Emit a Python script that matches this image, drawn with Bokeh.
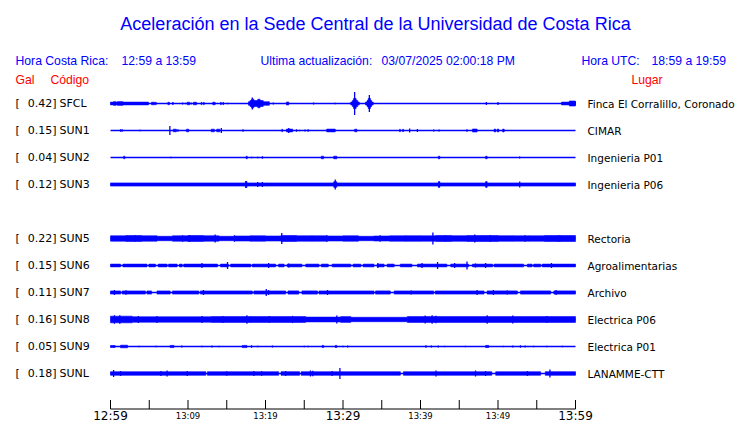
from bokeh.plotting import figure
from bokeh.models import Range1d, ColumnDataSource
from bokeh.core.properties import value
from bokeh.embed import file_html
from bokeh.resources import INLINE

# ---------------- data ----------------
title_text = "Aceleración en la Sede Central de la Universidad de Costa Rica"
hdr_cr_label = "Hora Costa Rica:"
hdr_cr_value = "12:59 a 13:59"
hdr_upd_label = "Ultima actualización:"
hdr_upd_value = "03/07/2025 02:00:18 PM"
hdr_utc_label = "Hora UTC:"
hdr_utc_value = "18:59 a 19:59"
col_gal = "Gal"
col_code = "Código"
col_place = "Lugar"

stations = ["SFCL", "SUN1", "SUN2", "SUN3", "SUN5", "SUN6", "SUN7", "SUN8", "SUN9", "SUNL"]
peak_gal = [0.42, 0.15, 0.04, 0.12, 0.22, 0.15, 0.11, 0.16, 0.05, 0.18]
places = ["Finca El Corralillo, Coronado", "CIMAR", "Ingenieria P01", "Ingenieria P06",
          "Rectoria", "Agroalimentarias", "Archivo", "Electrica P06", "Electrica P01",
          "LANAMME-CTT"]
rows = [0, 1, 2, 3, 5, 6, 7, 8, 9, 10]

t_start, t_end = 0, 60                       # minutes after 12:59
tick_minutes = list(range(0, 61, 5))
label_minutes = [0, 10, 20, 30, 40, 50, 60]
tick_labels = ["12:59", "13:09", "13:19", "13:29", "13:39", "13:49", "13:59"]
big_labels = ["12:59", "13:29", "13:59"]

# Trace envelopes (minutes, half amplitude in trace units)
# bands: (t0, t1, amp); spikes: (t, amp); gaps: quiet stretches in a continuous band
bands = {
    "SFCL": [(0.0, 4.9, 1.4), (0.4, 0.7, 1.8), (0.9, 1.6, 1.8), (5.3, 5.7, 1.3), (5.8, 5.9, 1.3),
             (7.4, 7.6, 1.2), (8.0, 8.1, 1.2), (9.9, 10.2, 1.3), (10.7, 11.1, 1.3), (11.7, 11.8, 1.2),
             (12.0, 12.1, 1.2), (13.2, 13.5, 1.3), (14.2, 14.3, 1.2), (14.5, 14.6, 1.2),
             (17.8, 20.5, 1.8), (18.0, 19.7, 3.0), (18.2, 18.5, 4.3), (19.0, 19.3, 4.3),
             (22.7, 23.0, 1.5), (31.0, 32.1, 1.5), (31.2, 31.9, 3.0), (31.35, 31.7, 5.0),
             (32.9, 33.9, 1.5), (33.1, 33.7, 3.0), (33.25, 33.55, 5.0),
             (58.2, 60.0, 1.4), (59.2, 60.0, 2.5)],
    "SUN1": [(8.1, 8.5, 1.3), (9.8, 10.1, 1.3), (13.0, 13.4, 1.3), (13.7, 14.1, 1.3),
             (22.1, 22.2, 1.3), (22.7, 23.5, 1.4), (27.9, 29.0, 1.4), (31.5, 31.8, 1.3),
             (37.3, 37.4, 1.3), (37.7, 37.8, 1.3), (46.7, 47.3, 1.5), (49.5, 49.7, 1.4),
             (49.9, 50.1, 1.4), (50.6, 50.8, 1.4)],
    "SUN2": [(1.7, 1.85, 1.3), (17.5, 17.65, 1.3), (27.2, 27.5, 1.3), (28.8, 29.2, 1.3),
             (42.3, 42.5, 1.3), (48.4, 48.6, 1.3)],
    "SUN3": [(0.0, 60.0, 1.6), (17.4, 17.6, 3.0), (28.8, 29.2, 2.8), (42.3, 42.5, 2.8),
             (48.4, 48.6, 2.8)],
    "SUN5": [(0, 2, 2.7), (2, 4, 3.0), (4, 6, 2.7), (6, 8, 2.2), (8, 10, 2.7), (10, 12, 3.0),
             (12, 14, 2.7), (14, 16, 2.2), (16, 18, 2.5), (18, 20, 2.7), (20, 22, 2.5),
             (22, 24, 3.0), (24, 26, 2.7), (26, 28, 2.7), (28, 30, 2.5), (30, 32, 2.7),
             (32, 34, 2.2), (34, 36, 2.5), (36, 38, 2.7), (38, 40, 2.8), (40, 42, 2.7),
             (42, 44, 3.0), (44, 46, 2.8), (46, 48, 3.0), (48, 50, 3.0), (50, 52, 2.8),
             (52, 54, 2.7), (54, 56, 2.7), (56, 58, 3.0), (58, 60, 3.0)],
    "SUN6": [(0.0, 60.0, 1.4)],
    "SUN7": [(0.0, 60.0, 1.6)],
    "SUN8": [(0.0, 2.8, 3.3), (2.8, 13.0, 2.7), (13.0, 18.0, 2.9), (18.0, 25.2, 2.9),
             (25.2, 29.7, 2.4), (29.7, 31.0, 2.9), (31.0, 38.3, 2.2), (38.3, 60.0, 2.9)],
    "SUN9": [(0.0, 0.6, 1.0), (1.3, 2.2, 1.3), (7.7, 8.2, 1.1), (17.0, 17.6, 1.1),
             (27.3, 27.5, 1.1), (29.0, 29.2, 1.1), (48.4, 48.8, 1.1)],
    "SUNL": [(0.0, 60.0, 1.8)],
}
gaps = {
    "SUN6": [(1.3, 1.6), (4.7, 4.95), (5.8, 6.15), (7.3, 7.5), (8.6, 8.9), (9.25, 9.45),
             (13.8, 14.2), (15.2, 15.5), (18.1, 18.3), (21.3, 21.7), (22.4, 22.8), (24.7, 25.2),
             (26.9, 27.2), (28.1, 28.6), (31.0, 31.3), (32.3, 32.6), (34.0, 34.4), (35.3, 35.7),
             (36.6, 37.4), (38.9, 39.6), (43.4, 43.9), (46.2, 46.7), (49.3, 49.5), (53.3, 53.8),
             (54.4, 54.6), (55.5, 55.7)],
    "SUN7": [(1.3, 1.5), (4.5, 4.7), (5.3, 6.0), (7.7, 8.0), (11.4, 11.6), (18.3, 18.5),
             (22.6, 22.9), (24.3, 24.7), (26.7, 26.9), (34.0, 34.2), (36.1, 36.6), (41.7, 41.9),
             (48.2, 48.6), (52.5, 52.9), (56.8, 57.2)],
    "SUNL": [(12.3, 12.5), (21.7, 22.0), (24.4, 24.6), (37.4, 37.8), (49.2, 49.7), (55.5, 56.1)],
}
spikes = {
    "SFCL": [(9.3, 1.0), (9.7, 0.8), (10.4, 1.0), (15.1, 0.8), (21.0, 1.0), (26.2, 1.0),
             (29.0, 0.8), (48.5, 1.5), (50.0, 1.5), (18.3, 6.0), (31.5, 11.5), (33.4, 8.5)],
    "SUN1": [(1.3, 1.3), (1.5, 1.3), (3.8, 0.8), (5.9, 0.6), (7.66, 4.5), (8.7, 1.3), (12.0, 0.6),
             (14.3, 2.5), (17.1, 1.2), (19.6, 0.6), (23.0, 2.5), (24.0, 1.3), (24.4, 0.8),
             (25.1, 1.0), (25.5, 1.3), (27.3, 0.6), (31.1, 0.6), (38.6, 2.0), (39.6, 1.5),
             (41.7, 1.0), (42.4, 1.0), (46.0, 1.2), (52.9, 0.6)],
    "SUN2": [(7.8, 0.8), (18.2, 0.8), (19.0, 0.8), (19.6, 1.3), (40.7, 0.6), (52.8, 1.0)],
    "SUN3": [(17.5, 3.5), (19.0, 2.5), (19.6, 2.5), (29.0, 5.0), (42.4, 3.0), (48.5, 3.0),
             (52.8, 3.0)],
    "SUN5": [(9.3, 3.3), (10.2, 3.5), (13.5, 4.0), (22.1, 5.5), (27.9, 3.3), (41.6, 6.0),
             (43.2, 3.3), (47.0, 4.0), (49.0, 3.5), (3.2, 3.3), (16.0, 3.2), (34.8, 3.2),
             (53.5, 3.3), (57.8, 3.3)],
    "SUN6": [(11.8, 2.5), (15.1, 3.5), (20.4, 2.5), (23.0, 2.0), (34.5, 2.5), (40.2, 2.5),
             (42.2, 3.5), (44.4, 2.5), (46.0, 4.0), (47.1, 2.0), (48.4, 2.5), (56.9, 2.5)],
    "SUN7": [(0.5, 2.5), (2.0, 2.3), (12.0, 2.5), (20.1, 3.5), (20.4, 2.5), (28.0, 2.5),
             (38.8, 2.0), (47.3, 2.5), (49.4, 2.5), (51.2, 2.0), (57.5, 2.5)],
    "SUN8": [(0.5, 4.2), (1.2, 4.3), (3.6, 3.6), (6.0, 3.5), (11.8, 3.6), (14.5, 3.5),
             (17.6, 4.2), (20.5, 3.5), (23.5, 3.6), (29.2, 4.0), (40.6, 4.0), (41.5, 4.2),
             (42.0, 3.8), (48.6, 4.2), (51.9, 4.0), (56.3, 3.6)],
    "SUN9": [(3.7, 0.7), (5.9, 0.7), (9.2, 1.0), (11.8, 0.7), (13.1, 1.0), (14.0, 0.7),
             (18.2, 1.2), (19.0, 0.7), (20.9, 1.0), (25.0, 0.7), (25.5, 0.7), (30.0, 0.7),
             (30.6, 1.0), (40.7, 1.2), (41.4, 1.0), (42.3, 1.0), (43.1, 0.7), (45.8, 0.7),
             (50.7, 0.7), (51.9, 1.0), (52.9, 1.2), (53.5, 1.0), (54.6, 0.7), (56.3, 0.7),
             (58.3, 0.7)],
    "SUNL": [(0.4, 3.5), (1.3, 2.5), (6.5, 2.5), (7.3, 3.0), (9.9, 2.5), (15.0, 2.2),
             (18.5, 2.5), (19.5, 2.3), (22.6, 2.5), (25.8, 3.0), (26.1, 2.8), (28.6, 2.5),
             (29.6, 5.5), (42.0, 3.0), (47.1, 3.0), (48.4, 2.5), (53.8, 2.5), (56.7, 4.0)],
}

# ---------------- layout ----------------
W, H = 740, 423
PX_PER_MIN = 7.75          # horizontal scale of the traces
X0_PX = 110                # px of minute 0
ROW_PX = 27                # vertical spacing of traces
ROW0_PX = 103              # px of first trace
BLUE = "#0000ff"
RED = "#ff0000"


def fx(px):   # page x -> data x
    return (px - X0_PX) / PX_PER_MIN


def fy(py):   # page y -> data y
    return (py - ROW0_PX) / ROW_PX


def amp(a):
    return a / ROW_PX


p = figure(width=W, height=H, output_backend="svg", toolbar_location=None,
           x_range=Range1d(-X0_PX / PX_PER_MIN, (W - X0_PX) / PX_PER_MIN),
           y_range=Range1d((H - ROW0_PX) / ROW_PX, -ROW0_PX / ROW_PX),
           min_border=0, x_axis_type=None, y_axis_type=None)
p.grid.visible = False
p.outline_line_color = None
p.background_fill_color = "white"
p.border_fill_color = "white"


def complement(t0, t1, holes):
    out, cur = [], t0
    for a, b in sorted(holes):
        if a > cur:
            out.append((cur, a))
        cur = max(cur, b)
    if cur < t1:
        out.append((cur, t1))
    return out


# ---- traces ----
ql, qr, qb, qt = [], [], [], []
sx, sy0, sy1 = [], [], []
for st, r in zip(stations, rows):
    for (a, b, h) in bands.get(st, []):
        pieces = complement(a, b, gaps.get(st, [])) if (a == t_start and b == t_end) else [(a, b)]
        for (c, d) in pieces:
            ql.append(c); qr.append(d); qb.append(r - amp(h)); qt.append(r + amp(h))
    for (t, h) in spikes.get(st, []):
        sx.append(t); sy0.append(r - amp(h)); sy1.append(r + amp(h))

p.quad(left="l", right="r", bottom="b", top="t",
       source=ColumnDataSource(dict(l=ql, r=qr, b=qb, t=qt)),
       fill_color=BLUE, line_color=BLUE, line_width=0.6)
p.segment(x0="x", x1="x", y0="y0", y1="y1",
          source=ColumnDataSource(dict(x=sx, y0=sy0, y1=sy1)),
          line_color=BLUE, line_width=1.3)
p.segment(x0=[t_start] * len(rows), x1=[t_end] * len(rows), y0=rows, y1=rows,
          line_color=BLUE, line_width=1.3)

# ---- row labels ----
lab_y = [r + amp(0.2) for r in rows]
p.text(x=[fx(15)] * len(rows), y=lab_y, text=["["] * len(rows),
       text_font=value("DejaVu Sans"), text_font_size="11px", text_color="black",
       text_align="left", text_baseline="middle")
p.text(x=[fx(56)] * len(rows), y=lab_y, text=[f"{g:.2f}]" for g in peak_gal],
       text_font=value("DejaVu Sans"), text_font_size="11px", text_color="black",
       text_align="right", text_baseline="middle")
p.text(x=[fx(59)] * len(rows), y=lab_y, text=stations,
       text_font=value("DejaVu Sans"), text_font_size="11px", text_color="black",
       text_align="left", text_baseline="middle")
p.text(x=[fx(587)] * len(rows), y=lab_y, text=places,
       text_font=value("DejaVu Sans"), text_font_size="10.5px", text_color="black",
       text_align="left", text_baseline="middle")

# ---- time axis ----
axis_y = fy(408.5)
p.segment(x0=[t_start], x1=[t_end], y0=[axis_y], y1=[axis_y], line_color="black", line_width=1)
p.segment(x0=tick_minutes, x1=tick_minutes, y0=[fy(399.5)] * len(tick_minutes),
          y1=[axis_y] * len(tick_minutes), line_color="black", line_width=1)
big_m = [m for m, l in zip(label_minutes, tick_labels) if l in big_labels]
big_l = [l for l in tick_labels if l in big_labels]
small_m = [m for m, l in zip(label_minutes, tick_labels) if l not in big_labels]
small_l = [l for l in tick_labels if l not in big_labels]
p.text(x=big_m, y=[fy(415.5)] * len(big_m), text=big_l, text_font=value("DejaVu Sans"),
       text_font_size="12px", text_color="black", text_align="center",
       text_baseline="middle")
p.text(x=small_m, y=[fy(415.5)] * len(small_m), text=small_l, text_font=value("DejaVu Sans"),
       text_font_size="8.5px", text_color="black", text_align="center",
       text_baseline="middle")

# ---- titles / headers ----
hf = value("Liberation Sans")
p.text(x=[fx(375)], y=[fy(23)], text=[title_text], text_font=hf, text_font_size="18px",
       text_color=BLUE, text_align="center", text_baseline="middle")
p.text(x=[fx(15), fx(121), fx(260), fx(381), fx(581), fx(651)], y=[fy(60.5)] * 6,
       text=[hdr_cr_label, hdr_cr_value, hdr_upd_label, hdr_upd_value, hdr_utc_label, hdr_utc_value],
       text_font=hf, text_font_size="12.2px", text_color=BLUE, text_align="left",
       text_baseline="middle")
p.text(x=[fx(15), fx(50), fx(631)], y=[fy(79.5)] * 3, text=[col_gal, col_code, col_place],
       text_font=hf, text_font_size="12.2px", text_color=RED, text_align="left",
       text_baseline="middle")

open("out.html", "w").write(file_html(p, INLINE))
